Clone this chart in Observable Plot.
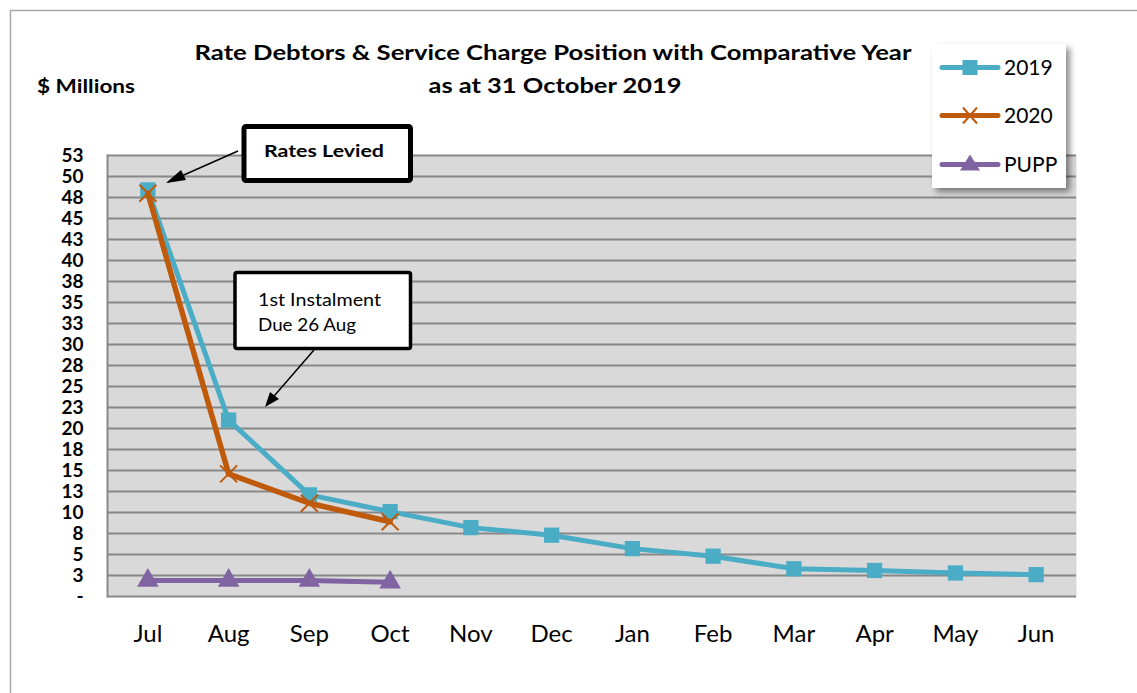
<!DOCTYPE html>
<html>
<head>
<meta charset="utf-8">
<script src="https://cdn.jsdelivr.net/npm/d3@7"></script>
<script src="https://cdn.jsdelivr.net/npm/@observablehq/plot@0.6"></script>
<style>
  html, body { margin: 0; padding: 0; background: #fff; }
  #wrap { position: relative; width: 1137px; height: 693px; overflow: hidden; font-family: Lato, "Open Sans", sans-serif; }
  #wrap svg.plot { position: absolute; left: 0; top: 0; }
</style>
</head>
<body>
<div id="wrap"></div>
<script>
// ---- data ----
const months = ["Jul","Aug","Sep","Oct","Nov","Dec","Jan","Feb","Mar","Apr","May","Jun"];
const values2019 = [48.4, 21.0, 12.1, 10.1, 8.2, 7.3, 5.7, 4.8, 3.3, 3.1, 2.8, 2.6];
const values2020 = [48.0, 14.6, 11.1, 8.9];
const valuesPUPP = [1.9, 1.9, 1.9, 1.7];
const seriesNames = ["2019", "2020", "PUPP"];
const seriesColors = ["#4bacc6", "#c05a0b", "#8064a2"];
const yTicks = d3.range(0, 52.6, 2.5);
const titleLines = ["Rate Debtors & Service Charge Position with Comparative Year", "as at 31 October 2019"];
const yLabel = "$ Millions";

const rows = (vals, s) => vals.map((v, i) => ({month: months[i], value: v, series: s}));
const d2019 = rows(values2019, "2019");
const d2020 = rows(values2020, "2020");
const dPUPP = rows(valuesPUPP, "PUPP");

const W = 1137, H = 693;
const plot = Plot.plot({
  width: W, height: H,
  marginLeft: 107, marginRight: 61, marginTop: 155, marginBottom: 97,
  style: {background: "transparent", fontFamily: "Lato, sans-serif"},
  x: {type: "point", domain: months, padding: 0.5, round: false, label: null},
  y: {domain: [0, 52.5], label: null},
  marks: [
    Plot.frame({fill: "#d9d9d9", stroke: null}),
    Plot.gridY(yTicks, {stroke: "#888888", strokeOpacity: 1, strokeWidth: 2}),
    Plot.frame({anchor: "left", stroke: "#888888", strokeWidth: 2}),
    Plot.axisY(yTicks, {tickSize: 0, tickPadding: 24, fontSize: 19, fontWeight: "bold",
      tickFormat: d => d === 0 ? "-" : String(Math.round(d)), label: null}),
    Plot.axisX({tickSize: 0, tickPadding: 28, fontSize: 24, label: null}),
    Plot.line(dPUPP, {x: "month", y: "value", stroke: seriesColors[2], strokeWidth: 5}),
    Plot.dot(dPUPP, {x: "month", y: "value", symbol: "triangle", r: 8, fill: seriesColors[2], stroke: null}),
    Plot.line(d2019, {x: "month", y: "value", stroke: seriesColors[0], strokeWidth: 5}),
    Plot.dot(d2019, {x: "month", y: "value", symbol: "square", r: 8.6, fill: seriesColors[0], stroke: null}),
    Plot.line(d2020, {x: "month", y: "value", stroke: seriesColors[1], strokeWidth: 5.5}),
    Plot.dot(d2020, {x: "month", y: "value", symbol: "times", r: 7.8, stroke: seriesColors[1], strokeWidth: 2})
  ]
});
plot.classList.add("plot");
const wrap = document.getElementById("wrap");
wrap.appendChild(plot);

// overlay: outer chart border, titles, annotation boxes/arrows and legend
const ns = "http://www.w3.org/2000/svg";
const ov = document.createElementNS(ns, "svg");
ov.setAttribute("width", W); ov.setAttribute("height", H);
ov.style.position = "absolute"; ov.style.left = "0"; ov.style.top = "0";
ov.innerHTML = `
  <defs>
    <filter id="sh" x="-20%" y="-20%" width="150%" height="150%">
      <feGaussianBlur in="SourceAlpha" stdDeviation="3"/>
      <feOffset dx="4" dy="4"/>
      <feComponentTransfer><feFuncA type="linear" slope="0.45"/></feComponentTransfer>
      <feMerge><feMergeNode/><feMergeNode in="SourceGraphic"/></feMerge>
    </filter>
  </defs>
  <path d="M10.5,${H} V10.5 H${W}" fill="none" stroke="#a6a6a6" stroke-width="1.5"/>
  <line x1="238" y1="151" x2="168" y2="182" stroke="#000" stroke-width="1.5"/>
  <path d="M166,183 L181,170 L186,180 z" fill="#000"/>
  <line x1="314" y1="350" x2="268" y2="403" stroke="#000" stroke-width="1.5"/>
  <path d="M265,407 L270,392 L279,399 z" fill="#000"/>
  <rect x="244" y="126.5" width="166.5" height="54" fill="#fff" stroke="#000" stroke-width="5" rx="2"/>
  <text x="324" y="157" text-anchor="middle" font-family="Lato, sans-serif" font-weight="bold" font-size="17.5" textLength="120" lengthAdjust="spacingAndGlyphs">Rates Levied</text>
  <rect x="235" y="272.5" width="175.5" height="76" fill="#fff" stroke="#000" stroke-width="3.5" rx="2"/>
  <text x="258" y="306" font-family="Lato, sans-serif" font-size="17" textLength="123" lengthAdjust="spacingAndGlyphs">1st Instalment</text>
  <text x="258" y="331" font-family="Lato, sans-serif" font-size="17" textLength="98" lengthAdjust="spacingAndGlyphs">Due 26 Aug</text>
  <g filter="url(#sh)"><rect x="932" y="44" width="134" height="144" fill="#fff"/></g>
  ${seriesNames.map((s, i) => {
    const y = [67.5, 115.5, 164.5][i];
    const c = seriesColors[i];
    let m = "";
    if (i === 0) m = `<rect x="962.5" y="${y-7.5}" width="15" height="15" fill="${c}"/>`;
    if (i === 1) m = `<path d="M963,${y-8} L977,${y+8} M977,${y-8} L963,${y+8}" stroke="${c}" stroke-width="2"/>`;
    if (i === 2) m = `<path d="M970,${y-10} L980,${y+6} L960,${y+6} z" fill="${c}"/>`;
    return `<line x1="942" y1="${y}" x2="998" y2="${y}" stroke="${c}" stroke-width="5" stroke-linecap="round"/>${m}
      <text x="1004" y="${y+7.5}" font-family="Lato, sans-serif" font-size="21">${s}</text>`;
  }).join("")}
  <text x="553" y="60" text-anchor="middle" font-family="Lato, sans-serif" font-weight="bold" font-size="21" textLength="717" lengthAdjust="spacingAndGlyphs">${titleLines[0].replace("&","&amp;")}</text>
  <text x="555" y="93" text-anchor="middle" font-family="Lato, sans-serif" font-weight="bold" font-size="21" textLength="253" lengthAdjust="spacingAndGlyphs">${titleLines[1]}</text>
  <text x="37" y="93" font-family="Lato, sans-serif" font-weight="bold" font-size="19.5" textLength="98" lengthAdjust="spacingAndGlyphs">${yLabel}</text>
`;
wrap.appendChild(ov);
</script>
</body>
</html>
